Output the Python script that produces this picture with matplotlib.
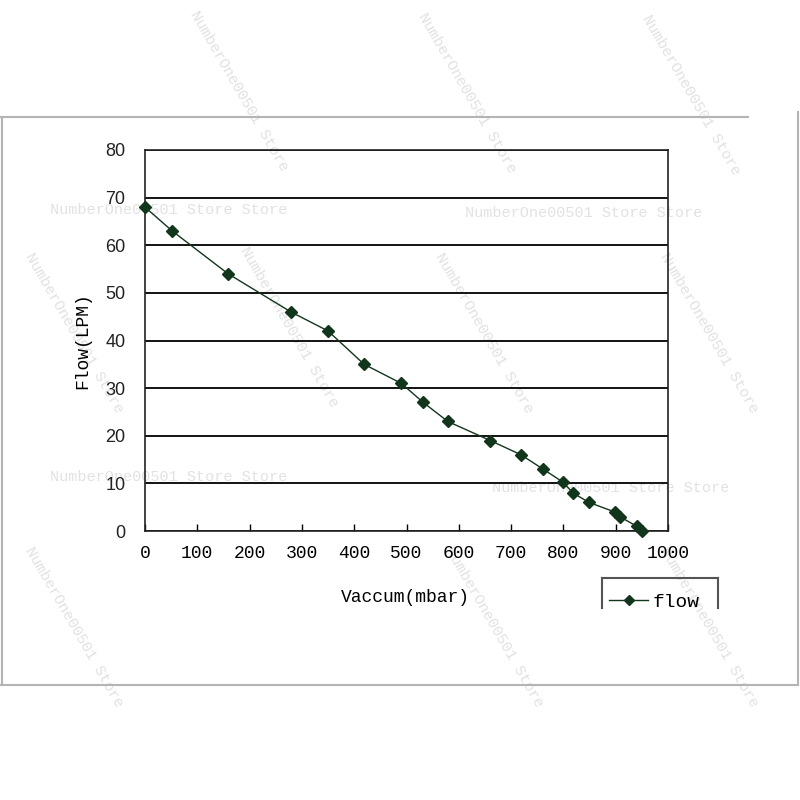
import matplotlib.pyplot as plt
from matplotlib.lines import Line2D

# data
vacuum = [0, 52, 159, 279, 350, 419, 490, 532, 579, 660, 719, 761, 800, 818, 849, 898, 908, 940, 950]
flow = [68, 63, 54, 46, 42, 35, 31, 27, 23, 19, 16, 13, 10.2, 8, 6, 4, 3, 1, 0]
x_ticks = list(range(0, 1001, 100))
y_ticks = list(range(0, 81, 10))

mono = 'Liberation Mono'
line_color = '#12361c'

fig = plt.figure(figsize=(8, 8), dpi=100)
fig.patch.set_facecolor('white')

# gray frame round the pasted chart
frame = '#b4b4b4'
fig.add_artist(Line2D([0.0, 0.935], [0.854, 0.854], color=frame, lw=1.5))
fig.add_artist(Line2D([0.002, 0.002], [0.144, 0.854], color=frame, lw=1.5))
fig.add_artist(Line2D([0.0, 0.998], [0.144, 0.144], color=frame, lw=1.5))
fig.add_artist(Line2D([0.997, 0.997], [0.144, 0.86], color=frame, lw=1.5))

ax = fig.add_axes([0.18125, 0.33625, 0.65375, 0.47625])
ax.patch.set_facecolor('none')
ax.plot(vacuum, flow, color=line_color, lw=1.0, marker='D', markersize=6,
        markerfacecolor=line_color, markeredgecolor=line_color, label='flow',
        clip_on=False, zorder=3)

ax.set_xlim(0, 1000)
ax.set_ylim(0, 80)
ax.set_xticks(x_ticks)
ax.set_yticks(y_ticks)
ax.set_xticklabels([str(v) for v in x_ticks], fontfamily=mono, fontsize=13)
ax.set_yticklabels([str(v) for v in y_ticks], fontfamily='Liberation Sans', fontsize=13,
                   color='#222222')
ax.tick_params(axis='x', direction='in', length=5, width=1, pad=10)
ax.tick_params(axis='y', length=0, pad=14)
ax.yaxis.grid(True, color='black', lw=1.3)
ax.set_axisbelow(True)
for s in ax.spines.values():
    s.set_color('#222222')
    s.set_linewidth(1.2)

ax.set_xlabel('Vaccum(mbar)', fontfamily=mono, fontsize=13)
ax.set_ylabel('Flow(LPM)', fontfamily=mono, fontsize=13)
ax.xaxis.set_label_coords(0.497, -0.152)
ax.yaxis.set_label_coords(-0.102, 0.5)

# legend, its box cut off at the bottom
leg = ax.legend(loc='upper left', bbox_to_anchor=(0.752, 0.268), bbox_transform=fig.transFigure,
                frameon=False, prop={'family': mono, 'size': 14}, handlelength=2.0,
                handletextpad=0.2, borderaxespad=0, markerscale=0.8)
fig.add_artist(Line2D([0.752, 0.752], [0.24, 0.278], color='#555555', lw=1.5))
fig.add_artist(Line2D([0.752, 0.897], [0.278, 0.278], color='#555555', lw=1.5))
fig.add_artist(Line2D([0.897, 0.897], [0.24, 0.278], color='#555555', lw=1.5))

# faint shop watermarks, drawn beneath the chart
wm = '#e2e2e2'
for x, y in [(50, 210), (465, 213), (50, 477), (492, 488)]:
    fig.text(x / 800, 1 - y / 800, 'NumberOne00501 Store Store', color=wm, fontsize=11,
             fontfamily=mono, ha='left', va='center', zorder=-1)
for x, y in [(200, 8), (428, 10), (652, 12), (35, 250), (250, 245), (445, 250),
             (670, 250), (35, 545), (455, 545), (670, 545)]:
    fig.text(x / 800, 1 - y / 800, 'NumberOne00501 Store', color=wm, fontsize=11,
             fontfamily=mono, rotation=-60, rotation_mode='anchor', ha='left', va='top',
             zorder=-1)

fig.savefig('out.png', dpi=100)
